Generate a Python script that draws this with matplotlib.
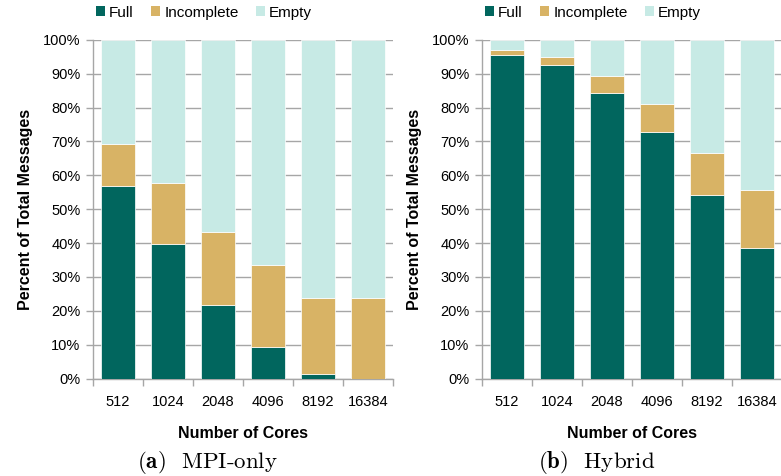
import matplotlib
matplotlib.use("Agg")
import matplotlib.pyplot as plt
from matplotlib.patches import Patch
import numpy as np

cores = ["512", "1024", "2048", "4096", "8192", "16384"]
series = ["Full", "Incomplete", "Empty"]

# Percent of total messages per core count
mpi_full = [56.8, 39.8, 21.8, 9.4, 1.4, 0.0]
mpi_incomplete = [12.4, 17.8, 21.5, 24.1, 22.4, 23.8]

hybrid_full = [95.5, 92.6, 84.3, 72.7, 54.3, 38.5]
hybrid_incomplete = [1.5, 2.3, 4.9, 8.2, 12.4, 17.2]

colors = {"Full": "#01665e", "Incomplete": "#d8b365", "Empty": "#c7eae5"}
grid_color = "#a6a6a6"
sans = ["Liberation Sans", "DejaVu Sans"]

W, H = 781, 476
fig = plt.figure(figsize=(W / 100, H / 100), dpi=100)
plt.rcParams["mathtext.fontset"] = "cm"


def px_axes(x0, x1, y_bottom, y_top):
    return fig.add_axes([x0 / W, 1 - y_bottom / H, (x1 - x0) / W, (y_bottom - y_top) / H])


def draw_panel(ax, full, incomplete, caption_tag, caption, cap_x):
    full = np.array(full)
    inc = np.array(incomplete)
    empty = 100 - full - inc
    x = np.arange(len(cores))
    w = 0.68
    kw = dict(width=w, edgecolor="white", linewidth=0.5, zorder=3)
    ax.bar(x, full, color=colors["Full"], **kw)
    ax.bar(x, inc, bottom=full, color=colors["Incomplete"], **kw)
    ax.bar(x, empty, bottom=full + inc, color=colors["Empty"], **kw)

    ax.set_xlim(-0.5, len(cores) - 0.5)
    ax.set_ylim(0, 100)
    ax.set_yticks(np.arange(0, 101, 10))
    ax.set_yticklabels([f"{v}%" for v in range(0, 101, 10)], family=sans, fontsize=10.5)
    ax.yaxis.grid(True, color=grid_color, linewidth=1.0, zorder=0)
    ax.set_axisbelow(True)

    ax.set_xticks(x)
    ax.set_xticklabels(cores, family=sans, fontsize=10.5)
    ax.set_xticks(np.arange(-0.5, len(cores)), minor=True)
    ax.tick_params(axis="x", which="major", length=0, pad=12)
    ax.tick_params(axis="x", which="minor", length=5, color=grid_color, width=1)
    ax.tick_params(axis="y", length=5, color=grid_color, width=1, pad=4)

    for s in ("top", "right"):
        ax.spines[s].set_visible(False)
    for s in ("left", "bottom"):
        ax.spines[s].set_color(grid_color)
        ax.spines[s].set_linewidth(1.0)

    ax.set_ylabel("Percent of Total Messages", family=sans, fontsize=11.5,
                  fontweight="bold", labelpad=7)
    ax.set_xlabel("Number of Cores", family=sans, fontsize=11.5,
                  fontweight="bold", labelpad=12)

    handles = [Patch(facecolor=colors[s], edgecolor="none") for s in series]
    ax.legend(handles, series, loc="center left", bbox_to_anchor=(0.01, 1.08),
              ncol=3, frameon=False, prop={"family": sans, "size": 11},
              handlelength=0.6, handleheight=0.6, handletextpad=0.25,
              columnspacing=1.15, borderpad=0, borderaxespad=0)

    fig.text(cap_x / W, 1 - 462 / H, caption_tag + "  " + caption, ha="center",
             va="center", fontsize=16.5, family="cmr10")


ax1 = px_axes(93, 393, 378.7, 39.7)
draw_panel(ax1, mpi_full, mpi_incomplete, r"$\mathbf{(a)}$", "MPI-only", 207)
ax2 = px_axes(482, 782, 378.7, 39.7)
draw_panel(ax2, hybrid_full, hybrid_incomplete, r"$\mathbf{(b)}$", "Hybrid", 597)

fig.savefig("out.png", dpi=100)
